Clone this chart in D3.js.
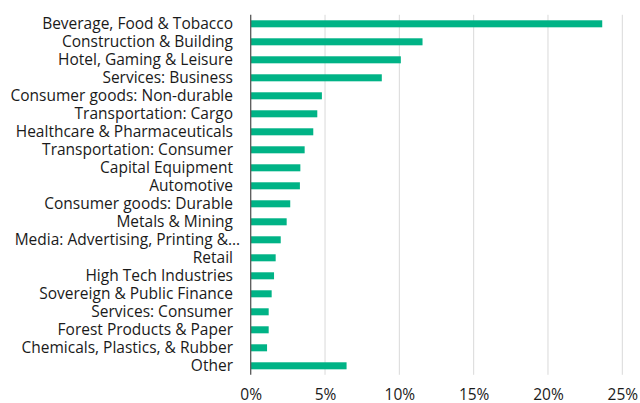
<!DOCTYPE html>
<html><head><meta charset="utf-8">
<script src="https://cdn.jsdelivr.net/npm/d3@7"></script>
<style>body{margin:0;background:#fff;} text{font-family:"Open Sans",sans-serif;}</style>
</head><body>
<svg id="c" width="640" height="403"></svg>
<script>
const categories = ["Beverage, Food & Tobacco","Construction & Building","Hotel, Gaming & Leisure","Services: Business","Consumer goods: Non-durable","Transportation: Cargo","Healthcare & Pharmaceuticals","Transportation: Consumer","Capital Equipment","Automotive","Consumer goods: Durable","Metals & Mining","Media: Advertising, Printing &…","Retail","High Tech Industries","Sovereign & Public Finance","Services: Consumer","Forest Products & Paper","Chemicals, Plastics, & Rubber","Other"];
const values = [23.65,11.56,10.1,8.82,4.79,4.48,4.21,3.63,3.34,3.31,2.66,2.42,2.02,1.68,1.57,1.41,1.21,1.21,1.1,6.45];
const xTicks = [0,5,10,15,20,25];

const svg = d3.select("#c");
const x = d3.scaleLinear().domain([0,25]).range([250.7,622.3]);
const y = d3.scaleBand().domain(categories).range([14.8,374.8]).paddingInner(0.61).paddingOuter(0.305);

svg.append("g").selectAll("line").data(xTicks.slice(1)).join("line")
  .attr("x1",d=>x(d)).attr("x2",d=>x(d)).attr("y1",14.8).attr("y2",374.8)
  .attr("stroke","#d9d9d9").attr("stroke-width",1);

svg.append("g").selectAll("rect").data(categories).join("rect")
  .attr("x",x(0)).attr("y",d=>y(d)).attr("height",y.bandwidth())
  .attr("width",(d,i)=>x(values[i])-x(0)).attr("fill","#00b386");

svg.append("line").attr("x1",x(0)).attr("x2",x(0)).attr("y1",14.8).attr("y2",374.8)
  .attr("stroke","#595959").attr("stroke-width",1.3);

const lab = svg.append("g").selectAll("text").data(categories).join("text")
  .attr("x",233).attr("y",d=>y(d)+y.bandwidth()/2).attr("dy","0.36em")
  .attr("text-anchor","end").attr("font-size",15.5).attr("fill","#1a1a1a").text(d=>d);
lab.filter(d=>d.endsWith("…")).attr("x",240);

const xAxis = d3.axisBottom(x).tickValues(xTicks).tickFormat(d=>d+"%").tickSize(0).tickPadding(0);
const ga = svg.append("g").attr("transform","translate(0,399.5)").call(xAxis);
ga.select(".domain").remove();
ga.selectAll("text").attr("font-size",15.5).attr("fill","#1a1a1a").attr("font-family","Open Sans, sans-serif").attr("dy","0").attr("y",0);
</script>
</body></html>
